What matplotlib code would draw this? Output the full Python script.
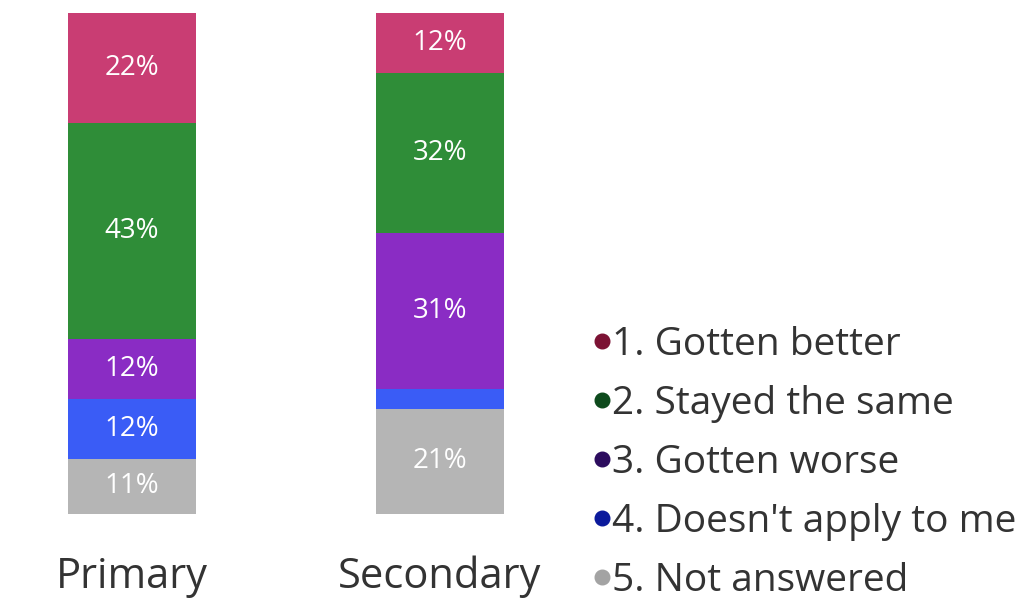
import matplotlib.pyplot as plt
from matplotlib.lines import Line2D
import numpy as np

plt.rcParams['font.family'] = ['Open Sans', 'DejaVu Sans']

# Survey responses, percent of each group
groups = ['Primary', 'Secondary']
answers = ['1. Gotten better', '2. Stayed the same', '3. Gotten worse',
           "4. Doesn't apply to me", '5. Not answered']
values = {
    'Primary':   [22, 43, 12, 12, 11],
    'Secondary': [12, 32, 31, 4, 21],
}
shown_labels = {
    'Primary':   ['22%', '43%', '12%', '12%', '11%'],
    'Secondary': ['12%', '32%', '31%', '', '21%'],
}

bar_colors = ['#c93d73', '#2f8d38', '#8a2cc4', '#3a5cf6', '#b5b5b5']
marker_colors = ['#7c1234', '#0d4a1c', '#2c0c5e', '#0b1a9c', '#a3a3a3']

fig = plt.figure(figsize=(10.31, 6.03), dpi=100)
ax = fig.add_axes([0, 89 / 603, 1, 501 / 603])

x = np.arange(len(groups))
width = 0.415
for gi, g in enumerate(groups):
    top = 100.0
    for v, lab, c in zip(values[g], shown_labels[g], bar_colors):
        ax.bar(x[gi], v, width, bottom=top - v, color=c, linewidth=0)
        if lab:
            ax.text(x[gi], top - v / 2, lab, ha='center', va='center',
                    color='white', fontsize=20)
        top -= v

ax.set_xlim(-132 / 308, (1031 - 132) / 308)
ax.set_ylim(0, 100)
ax.axis('off')

# Category names under the bars
for gi, g in enumerate(groups):
    fig.text((132 + gi * 308) / 1031, 26 / 603, g, ha='center', va='center',
             fontsize=30, color='#333333')

handles = [Line2D([], [], marker='o', linestyle='', markersize=10.5,
                  markerfacecolor=c, markeredgecolor=c) for c in marker_colors]
fig.legend(handles, answers, loc='upper left', bbox_to_anchor=(592 / 1031, 1 - 326 / 603),
           frameon=False, fontsize=28, handletextpad=0.02, labelspacing=0.54,
           handlelength=0.5, labelcolor='#333333', borderpad=0, borderaxespad=0)

fig.savefig('out.png', dpi=100, facecolor='white')
